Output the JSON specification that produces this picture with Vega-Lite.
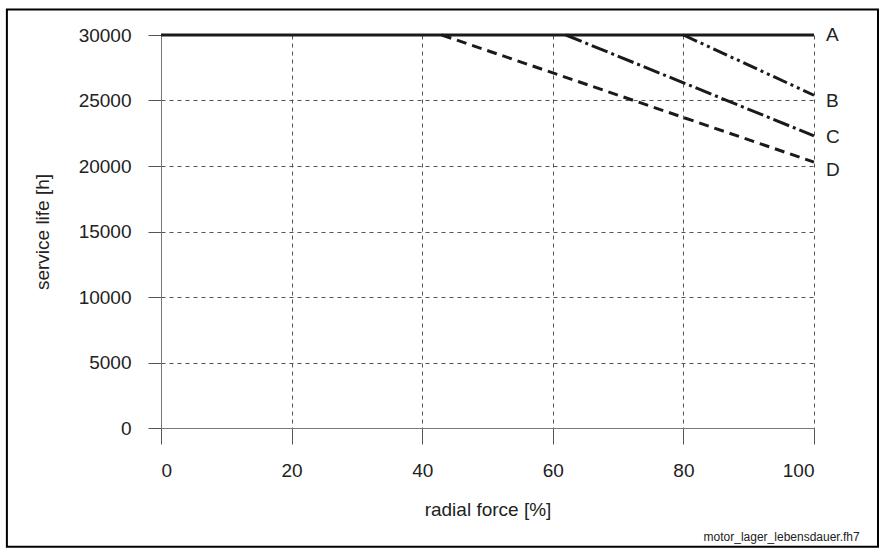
{
  "$schema": "https://vega.github.io/schema/vega-lite/v6.json",
  "autosize": "none",
  "width": 653,
  "height": 393,
  "padding": {"left": 161, "top": 35, "right": 68, "bottom": 128},
  "background": "white",
  "config": {
    "font": "Liberation Sans",
    "view": {"stroke": null},
    "axis": {
      "labelFont": "Liberation Sans",
      "titleFont": "Liberation Sans",
      "labelFontSize": 19,
      "titleFontSize": 19,
      "labelColor": "#222",
      "titleColor": "#222",
      "titleFontWeight": "normal",
      "domainColor": "#777",
      "tickColor": "#555",
      "gridColor": "#555",
      "gridDash": [4, 4],
      "gridWidth": 1,
      "gridOpacity": 1
    }
  },
  "datasets": {
    "curves": [
      {"series": "A", "force": 0, "life": 30000},
      {"series": "A", "force": 100, "life": 30000},
      {"series": "B", "force": 80, "life": 30000},
      {"series": "B", "force": 100, "life": 25400},
      {"series": "C", "force": 62, "life": 30000},
      {"series": "C", "force": 100, "life": 22300},
      {"series": "D", "force": 43, "life": 30000},
      {"series": "D", "force": 100, "life": 20300}
    ],
    "labels": [
      {"series": "A", "force": 100, "life": 30000},
      {"series": "B", "force": 100, "life": 25000},
      {"series": "C", "force": 100, "life": 22200},
      {"series": "D", "force": 100, "life": 19700}
    ],
    "note": [
      {"text": "motor_lager_lebensdauer.fh7", "force": 107, "life": -8300}
    ]
  },
  "layer": [
    {
      "data": {"values": [{"frame": "border"}]},
      "mark": {"type": "rect", "fill": null, "stroke": "black", "strokeWidth": 2, "clip": false},
      "encoding": {
        "x": {"datum": -23.6, "type": "quantitative", "scale": {"domain": [0, 100]}},
        "x2": {"datum": 109.8},
        "y": {"datum": 31950, "type": "quantitative", "scale": {"domain": [0, 30000]}},
        "y2": {"datum": -9070}
      }
    },
    {
      "data": {"name": "curves"},
      "mark": {"type": "line", "color": "#1a1a1a", "strokeWidth": 3, "strokeCap": "butt", "clip": false},
      "encoding": {
        "x": {
          "field": "force", "type": "quantitative",
          "scale": {"domain": [0, 100], "nice": false},
          "axis": {"values": [0, 20, 40, 60, 80, 100], "title": "radial force [%]", "tickSize": 16, "labelPadding": 17, "titlePadding": 20, "grid": true}
        },
        "y": {
          "field": "life", "type": "quantitative",
          "scale": {"domain": [0, 30000], "nice": false},
          "axis": {"values": [0, 5000, 10000, 15000, 20000, 25000, 30000], "title": "service life [h]", "tickSize": 13, "labelPadding": 17, "titlePadding": 26, "grid": true, "format": "d"}
        },
        "detail": {"field": "series"},
        "strokeDash": {
          "field": "series", "type": "nominal",
          "scale": {"domain": ["A", "B", "C", "D"], "range": [[1, 0], [15, 4, 3, 4, 3, 4], [17, 4, 3, 4], [10, 6]]},
          "legend": null
        }
      }
    },
    {
      "data": {"name": "labels"},
      "mark": {"type": "text", "align": "left", "baseline": "middle", "dx": 12, "fontSize": 19, "color": "#222", "font": "Liberation Sans", "clip": false},
      "encoding": {
        "x": {"field": "force", "type": "quantitative"},
        "y": {"field": "life", "type": "quantitative"},
        "text": {"field": "series"}
      }
    },
    {
      "data": {"name": "note"},
      "mark": {"type": "text", "align": "right", "baseline": "middle", "fontSize": 12, "color": "#222", "font": "Liberation Sans", "clip": false},
      "encoding": {
        "x": {"field": "force", "type": "quantitative"},
        "y": {"field": "life", "type": "quantitative"},
        "text": {"field": "text"}
      }
    }
  ]
}
